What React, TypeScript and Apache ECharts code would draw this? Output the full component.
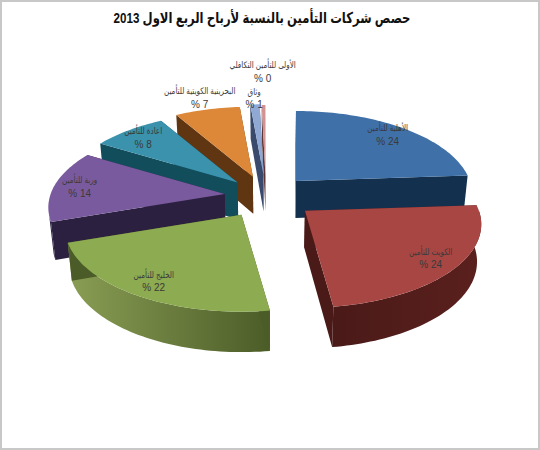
import React, { useEffect, useRef } from "react";
import * as echarts from "echarts";

const titleText = "حصص شركات التأمين بالنسبة لأرباح الربع الاول 2013";
const categories = [
  "الأهلية للتأمين",
  "الكويت للتأمين",
  "الخليج للتأمين",
  "وربة للتأمين",
  "اعادة للتأمين",
  "البحرينية الكويتية للتأمين",
  "وثاق",
  "الأولى للتأمين التكافلي",
];
const values = [24, 24, 22, 14, 8, 7, 1, 0.4];

const topColors = ["#3f70a8", "#a84643", "#8dab50", "#7a5a9e", "#3a92ad", "#dc8838", "#8fa9d4", "#d29291"];
const wallDark = ["#14304f", "#4a1a18", "#4c5c28", "#2c2040", "#124d5c", "#5f3512", "#394a6c", "#5e3534"];
const wallLight = ["#1c3d63", "#5a201d", "#8a9e54", "#3a2b54", "#17596a", "#6d3f18", "#445778", "#6c3e3d"];
const explodes = [0.26, 0.28, 0.26, 0.24, 0.24, 0.26, 0.28, 0.27];
const labelRadii = [0.85, 0.85, 0.85, 0.85, 0.85, 1.2, 1.1, 1.6];
const drawOrder = [7, 6, 5, 4, 3, 2, 0, 1];

const CX = 266;
const CY = 196;
const A = 174;
const B = 81.3;
const K = 0.162;
const DEPTH = 37;
const VPX = 270;
const CONVERGE = 0.02;
const WALL_FROM = Math.PI / 2;
const WALL_TO = (255 / 180) * Math.PI;
const FONT = "'Liberation Sans', 'DejaVu Sans', sans-serif";

const total = values.reduce((s, v) => s + v, 0);
const starts: number[] = [];
values.reduce((s, v, i) => {
  starts[i] = s;
  return s + v;
}, 0);

const proj = (x: number, y: number) => {
  const w = 1 + K * y;
  return [(A * x) / w, (-B * y) / w, w];
};

const sliceGeom = (i: number) => {
  const a0 = (starts[i] / total) * Math.PI * 2;
  const a1 = ((starts[i] + values[i]) / total) * Math.PI * 2;
  const mid = (a0 + a1) / 2;
  const e = proj(Math.sin(mid) * explodes[i], Math.cos(mid) * explodes[i]);
  const ax = CX + e[0];
  const ay = CY + e[1];
  const at = (angle: number, r = 1) => {
    const p = proj(Math.sin(angle) * r, Math.cos(angle) * r);
    return [ax + p[0], ay + p[1], p[2]];
  };
  return { a0, a1, mid, ax, ay, at };
};

const down = (p: number[]) => {
  const w = p[2] ?? 1;
  return [p[0] + (VPX - p[0]) * CONVERGE, p[1] + DEPTH / Math.sqrt(w)];
};

const wall = (a: number[], b: number[]) => [a, b, down(b), down(a)].map((q) => [q[0], q[1]]);

const sampleArc = (g: any, from: number, to: number) => {
  const n = Math.max(4, Math.ceil((to - from) * 40));
  const arc: number[][] = [];
  for (let k = 0; k <= n; k++) arc.push(g.at(from + ((to - from) * k) / n));
  return arc;
};

const renderSlice = (_: any, api: any) => {
  const i = api.value(0);
  const g = sliceGeom(i);
  const arc = sampleArc(g, g.a0, g.a1);
  const apex = [g.ax, g.ay, 1];
  const poly = (points: number[][], fill: any) => ({
    type: "polygon",
    shape: { points },
    style: { fill, stroke: null },
  });
  const children: any[] = [];
  const wf = Math.max(g.a0, WALL_FROM);
  const wt = Math.min(g.a1, WALL_TO);
  if (wt > wf) {
    const front = sampleArc(g, wf, wt);
    const band = [...front.map((p) => [p[0], p[1]]), ...front.slice().reverse().map(down)];
    children.push(
      poly(band, {
        type: "linear",
        x: 0,
        y: 0,
        x2: 1,
        y2: 0,
        colorStops: [
          { offset: 0, color: i === 2 ? wallLight[i] : wallDark[i] },
          { offset: 1, color: i === 2 ? wallDark[i] : wallLight[i] },
        ],
      })
    );
  }
  children.push(
    poly(wall(apex, arc[0]), wallDark[i]),
    poly(wall(apex, arc[arc.length - 1]), wallDark[i]),
    poly([[g.ax, g.ay], ...arc.map((p) => [p[0], p[1]])], topColors[i])
  );
  return { type: "group", children };
};

const renderLabel = (_: any, api: any) => {
  const i = api.value(0);
  const g = sliceGeom(i);
  const p = g.at(g.mid, labelRadii[i]);
  const common = { align: "center", verticalAlign: "middle", fontFamily: FONT, fill: "#3a3a3a" };
  return {
    type: "group",
    children: [
      {
        type: "text",
        x: p[0],
        y: p[1] - 6.5,
        scaleX: 0.8,
        style: { ...common, x: 0, y: 0, text: categories[i], fontSize: 9 },
      },
      {
        type: "text",
        x: p[0],
        y: p[1] + 6.5,
        style: { ...common, x: 0, y: 0, text: `${Math.round(values[i])} %`, fontSize: 10 },
      },
    ],
  };
};

export default function App() {
  const ref = useRef<HTMLDivElement>(null);
  useEffect(() => {
    const chart = echarts.init(ref.current!, undefined, { renderer: "svg" });
    chart.setOption({
      animation: false,
      backgroundColor: "#ffffff",
      graphic: [
        {
          type: "rect",
          shape: { x: 1, y: 1, width: 538, height: 448 },
          style: { fill: "none", stroke: "#c8c8c8", lineWidth: 2 },
          silent: true,
        },
        {
          type: "text",
          x: 262,
          y: 18,
          scaleX: 0.775,
          silent: true,
          style: {
            x: 0,
            y: 0,
            text: titleText,
            align: "center",
            verticalAlign: "middle",
            fontFamily: FONT,
            fontSize: 15,
            fontWeight: "bold",
            fill: "#111111",
          },
        },
      ],
      series: [
        {
          type: "custom",
          coordinateSystem: "none",
          silent: true,
          data: drawOrder.map((i) => [i]),
          renderItem: renderSlice,
        },
        {
          type: "custom",
          coordinateSystem: "none",
          silent: true,
          data: values.map((_, i) => [i]),
          renderItem: renderLabel,
        },
      ],
    });
    return () => chart.dispose();
  }, []);
  return (
    <div
      ref={ref}
      dir="rtl"
      style={{ position: "fixed", left: 0, top: 0, width: 540, height: 450, direction: "rtl" }}
    />
  );
}
